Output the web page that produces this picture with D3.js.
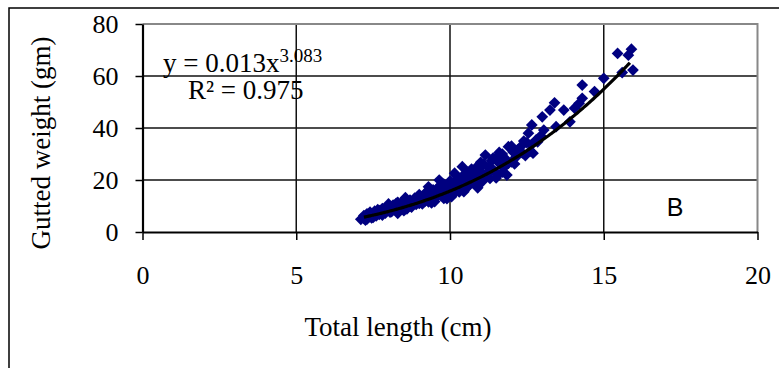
<!DOCTYPE html>
<html>
<head>
<meta charset="utf-8">
<script src="https://cdn.jsdelivr.net/npm/d3@7"></script>
<style>
  body { margin: 0; background: #fff; }
  svg { display: block; }
  .serif { font-family: "Liberation Serif", "Times New Roman", serif; }
</style>
</head>
<body>
<svg width="779" height="368"></svg>
<script>
// total length (cm) and gutted weight (gm)
const lengths = [
  7.1, 7.2, 7.2, 7.25, 7.3, 7.35, 7.4, 7.4, 7.45, 7.5, 7.55, 7.6, 7.6, 7.65, 7.7, 7.75, 7.8, 7.8, 7.85, 7.9,
  7.95, 8.0, 8.0, 8.05, 8.1, 8.15, 8.2, 8.25, 8.3, 8.3, 8.35, 8.4, 8.45, 8.5, 8.55, 8.6, 8.6, 8.65, 8.7, 8.75,
  8.8, 8.85, 8.9, 8.95, 9.0, 9.0, 9.05, 9.1, 9.15, 9.2, 9.25, 9.3, 9.3, 9.35, 9.4, 9.45, 9.5, 9.5, 9.55, 9.6,
  9.65, 9.7, 9.75, 9.8, 9.8, 9.85, 9.9, 9.95, 10.0, 10.0, 10.05, 10.1, 10.15, 10.2, 10.25, 10.3, 10.35, 10.4, 10.4, 10.45,
  10.5, 10.55, 10.6, 10.65, 10.7, 10.75, 10.8, 10.85, 10.9, 10.95, 11.0, 11.05, 11.1, 11.15, 11.2, 11.25, 11.3, 11.35, 11.4, 11.45,
  11.5, 11.55, 11.6, 11.7, 11.75, 11.8, 11.85, 11.9, 12.0, 12.05, 12.1, 12.2, 12.3, 12.4, 12.45, 12.55, 12.65, 12.66, 12.7, 12.8,
  12.85, 12.95, 13.0, 13.05, 13.25, 13.4, 13.45, 13.7, 13.9, 14.05, 14.2, 14.3, 14.3, 14.7, 15.0, 15.45, 15.6, 15.8, 15.9, 15.95,
  7.3, 7.5, 7.7, 7.9, 8.1, 8.3, 8.5, 8.7, 8.9, 9.1, 9.2, 9.4, 9.6, 9.7, 9.9, 10.1, 10.2, 10.3, 10.5, 10.6,
  10.8, 10.9, 11.0, 11.1, 11.3, 11.4, 11.5, 11.6, 11.7, 11.9, 12.0, 12.15, 12.35, 12.5, 12.6
];
const weights = [
  4.9, 6.3, 5.2, 4.6, 7.0, 5.6, 6.6, 7.6, 5.4, 6.9, 8.0, 6.2, 7.4, 8.6, 6.8, 7.9, 6.5, 9.0, 8.2, 7.3,
  9.6, 8.4, 10.8, 7.6, 9.2, 10.3, 8.6, 11.0, 9.8, 7.2, 10.6, 9.0, 11.6, 10.0, 13.2, 8.9, 11.2, 10.2, 12.3, 9.6,
  11.4, 13.0, 10.6, 12.2, 11.0, 14.4, 12.8, 10.8, 13.9, 12.0, 15.6, 17.4, 11.6, 14.2, 13.0, 16.2, 11.7, 14.8, 13.4, 17.0,
  20.0, 14.2, 16.6, 12.9, 18.4, 15.2, 17.6, 14.0, 19.6, 16.0, 13.6, 18.4, 22.6, 16.8, 20.2, 15.4, 18.8, 25.1, 21.4, 15.5,
  19.2, 23.0, 17.6, 21.0, 24.2, 19.0, 22.4, 18.4, 25.4, 21.6, 23.2, 19.4, 26.0, 29.6, 22.4, 25.0, 20.6, 27.4, 24.0, 23.2,
  28.6, 22.0, 26.4, 30.0, 24.8, 28.2, 21.9, 32.8, 27.0, 30.8, 26.2, 31.6, 32.8, 35.0, 29.4, 38.0, 33.6, 41.2, 30.3, 35.4,
  34.7, 37.0, 44.3, 39.2, 46.9, 49.7, 40.5, 46.9, 42.4, 47.6, 49.5, 51.4, 56.5, 54.0, 59.1, 68.7, 61.3, 68.0, 70.3, 62.3,
  5.0, 5.6, 8.2, 8.8, 7.8, 11.4, 8.2, 10.0, 12.8, 12.4, 14.8, 11.2, 15.4, 18.0, 12.8, 14.6, 21.6, 19.8, 16.6, 22.2,
  20.6, 17.0, 26.8, 21.0, 23.8, 28.4, 20.8, 30.6, 23.0, 26.4, 33.0, 28.8, 30.4, 34.4, 31.0
];

// power trend line as printed on the chart
const trendA = 0.013, trendB = 3.083;
const trendRange = [7.2, 15.85];

const xTicks = [0, 5, 10, 15, 20];
const yTicks = [0, 20, 40, 60, 80];

const svg = d3.select("svg");

const x = d3.scaleLinear().domain([0, 20]).range([142.5, 757.5]);
const y = d3.scaleLinear().domain([0, 80]).range([232, 24]);

// outer frame (runs off the right / bottom edge)
svg.append("rect")
   .attr("x", 9).attr("y", 8).attr("width", 800).attr("height", 400)
   .attr("fill", "none").attr("stroke", "#000").attr("stroke-width", 1.5);

// grid
svg.append("g").selectAll("line")
   .data(yTicks.slice(1, -1)).enter().append("line")
   .attr("x1", x(0)).attr("x2", x(20))
   .attr("y1", d => y(d)).attr("y2", d => y(d))
   .attr("stroke", "#111").attr("stroke-width", 1.5);
svg.append("g").selectAll("line")
   .data(xTicks.slice(1, -1)).enter().append("line")
   .attr("x1", d => x(d)).attr("x2", d => x(d))
   .attr("y1", y(0)).attr("y2", y(80))
   .attr("stroke", "#111").attr("stroke-width", 1.5);

// top / right plot border in grey
svg.append("path")
   .attr("d", `M${x(0)},${y(80)}H${x(20)}V${y(0)}`)
   .attr("fill", "none").attr("stroke", "#888").attr("stroke-width", 2);

// axes
const yAxis = svg.append("g")
   .attr("transform", `translate(${x(0)},0)`)
   .call(d3.axisLeft(y).tickValues(yTicks).tickSize(7).tickPadding(17).tickSizeOuter(0));
const xAxis = svg.append("g")
   .attr("transform", `translate(0,${y(0)})`)
   .call(d3.axisBottom(x).tickValues(xTicks).tickSize(8).tickPadding(26).tickSizeOuter(0));

[yAxis, xAxis].forEach(g => {
    g.attr("font-family", null).attr("font-size", null).attr("class", "serif");
    g.select(".domain").attr("stroke", "#000").attr("stroke-width", 2.2);
    g.selectAll(".tick line").attr("stroke", "#000").attr("stroke-width", 1.5);
    g.selectAll(".tick text").style("font-size", "26px").attr("fill", "#000");
});

// markers
svg.append("g").selectAll("path")
   .data(lengths.map((l, i) => [l, weights[i]]))
   .enter().append("path")
   .attr("transform", d => `translate(${x(d[0])},${y(d[1])})`)
   .attr("d", d3.symbol(d3.symbolDiamond2, 88))
   .attr("fill", "#000080");

// trend line
const trendX = d3.range(trendRange[0], trendRange[1] + 0.001, 0.05);
svg.append("path")
   .datum(trendX)
   .attr("d", d3.line().x(d => x(d)).y(d => y(trendA * Math.pow(d, trendB))).curve(d3.curveMonotoneX))
   .attr("fill", "none").attr("stroke", "#000").attr("stroke-width", 3.2);

// equation
const eq = svg.append("text").attr("class", "serif")
   .attr("x", 163).attr("y", 72)
   .style("font-size", "27px");
eq.append("tspan").text("y = 0.013x");
eq.append("tspan").attr("dy", -10).style("font-size", "19px").text("3.083");

svg.append("text").attr("class", "serif")
   .attr("x", 188).attr("y", 99)
   .style("font-size", "27px")
   .text("R² = 0.975");

// panel letter
svg.append("text")
   .attr("x", 675).attr("y", 216)
   .attr("text-anchor", "middle")
   .style("font-family", "'Liberation Sans', Arial, sans-serif").style("font-size", "25px")
   .text("B");

// axis titles
svg.append("text").attr("class", "serif")
   .attr("x", 398).attr("y", 336)
   .attr("text-anchor", "middle")
   .style("font-size", "27px")
   .text("Total length (cm)");

svg.append("text").attr("class", "serif")
   .attr("transform", "translate(50,143) rotate(-90)")
   .attr("text-anchor", "middle")
   .style("font-size", "27px")
   .text("Gutted weight (gm)");
</script>
</body>
</html>
